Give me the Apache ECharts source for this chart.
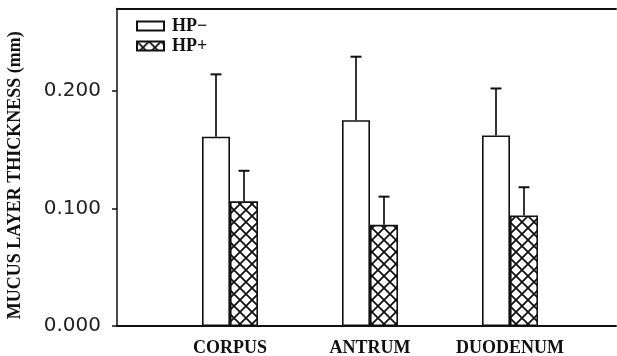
<!DOCTYPE html>
<html>
<head>
<meta charset="utf-8">
<script src="https://cdn.jsdelivr.net/npm/echarts@6/dist/echarts.min.js"></script>
<style>
  html, body { margin: 0; padding: 0; background: #fff; }
  #chart { width: 617px; height: 356px; }
</style>
</head>
<body>
<div id="chart"></div>
<script>
// values (mm)
const categories = ['CORPUS', 'ANTRUM', 'DUODENUM'];
const hpNeg = [0.161, 0.175, 0.162];
const hpNegSd = [0.053, 0.054, 0.040];
const hpPos = [0.106, 0.086, 0.094];
const hpPosSd = [0.026, 0.024, 0.024];
const yTicks = [0, 0.1, 0.2];

const serif = '"Liberation Serif", "Times New Roman", serif';
const sans = '"DejaVu Sans", "Liberation Sans", sans-serif';

// crosshatch tile for HP+ bars
function hatchTile() {
  const c = document.createElement('canvas');
  c.width = 12; c.height = 12;
  const g = c.getContext('2d');
  g.fillStyle = '#fff';
  g.fillRect(0, 0, 12, 12);
  g.strokeStyle = '#111';
  g.lineWidth = 1.8;
  g.beginPath();
  g.moveTo(-1, -1); g.lineTo(13, 13);
  g.moveTo(13, -1); g.lineTo(-1, 13);
  g.stroke();
  return c;
}

const chart = echarts.init(document.getElementById('chart'));

function errorBars(means, sds, offset) {
  return {
    type: 'custom',
    xAxisIndex: 2,
    yAxisIndex: 1,
    z: 5,
    silent: true,
    data: means.map((m, i) => [i, m, m + sds[i]]),
    renderItem: function (params, api) {
      const base = api.coord([api.value(0), api.value(1)]);
      const top = api.coord([api.value(0), api.value(2)]);
      const x = base[0] + offset;
      return {
        type: 'group',
        children: [
          { type: 'line', shape: { x1: x, y1: base[1], x2: x, y2: top[1] },
            style: { stroke: '#111', lineWidth: 1.7 } },
          { type: 'line', shape: { x1: x - 5.5, y1: top[1], x2: x + 5.5, y2: top[1] },
            style: { stroke: '#111', lineWidth: 2 } }
        ]
      };
    }
  };
}

const option = {
  backgroundColor: '#fff',
  animation: false,
  grid: [
    { left: 117, right: 1, top: 8.5, bottom: 30, outerBoundsMode: 'none', containLabel: false },
    { left: 160, right: 37, top: 8.5, bottom: 30, outerBoundsMode: 'none', containLabel: false }
  ],
  legend: {
    orient: 'vertical',
    left: 131,
    top: 12,
    itemWidth: 27,
    itemHeight: 9,
    itemGap: 2,
    icon: 'rect',
    data: ['HP−', 'HP+'],
    textStyle: { fontFamily: serif, fontSize: 18, fontWeight: 'bold', color: '#111',
      lineHeight: 14, padding: [0, 0, 0, 3] }
  },
  xAxis: [
    { gridIndex: 0, type: 'value', min: 0, max: 1, position: 'bottom',
      axisLine: { show: true, lineStyle: { color: '#111', width: 2 } },
      axisTick: { show: false }, axisLabel: { show: false }, splitLine: { show: false } },
    { gridIndex: 0, type: 'value', min: 0, max: 1, position: 'top',
      axisLine: { show: true, lineStyle: { color: '#111', width: 2 } },
      axisTick: { show: false }, axisLabel: { show: false }, splitLine: { show: false } },
    { gridIndex: 1, type: 'category', data: categories,
      axisLine: { show: false }, axisTick: { show: false },
      axisLabel: { interval: 0, margin: 13, fontFamily: serif, fontSize: 18, fontWeight: 'bold', color: '#111' } }
  ],
  yAxis: [
    { gridIndex: 0, type: 'value', min: 0, max: 0.27,
      name: 'MUCUS LAYER THICKNESS (mm)',
      nameLocation: 'middle',
      nameGap: 93,
      nameTextStyle: { fontFamily: serif, fontSize: 18, fontWeight: 'bold', color: '#111',
        padding: [0, 16, 0, 0] },
      axisLine: { show: true, lineStyle: { color: '#111', width: 1.5 } },
      axisTick: { show: true, length: 5, customValues: yTicks, lineStyle: { color: '#111', width: 1.5 } },
      axisLabel: { customValues: yTicks, margin: 16, fontFamily: sans, fontSize: 20, color: '#222',
        formatter: v => v.toFixed(3) },
      splitLine: { show: false } },
    { gridIndex: 1, type: 'value', min: 0, max: 0.27, show: false, splitLine: { show: false } }
  ],
  series: [
    { name: 'HP−', type: 'bar', xAxisIndex: 2, yAxisIndex: 1,
      barWidth: 28, barGap: '0%', data: hpNeg,
      itemStyle: { color: '#fff', borderColor: '#111', borderWidth: 1.6 } },
    { name: 'HP+', type: 'bar', xAxisIndex: 2, yAxisIndex: 1,
      barWidth: 28, barGap: '0%', data: hpPos,
      itemStyle: { color: { image: hatchTile(), repeat: 'repeat' }, borderColor: '#111', borderWidth: 1.6 } },
    errorBars(hpNeg, hpNegSd, -14),
    errorBars(hpPos, hpPosSd, 14)
  ]
};

chart.setOption(option);
</script>
</body>
</html>
